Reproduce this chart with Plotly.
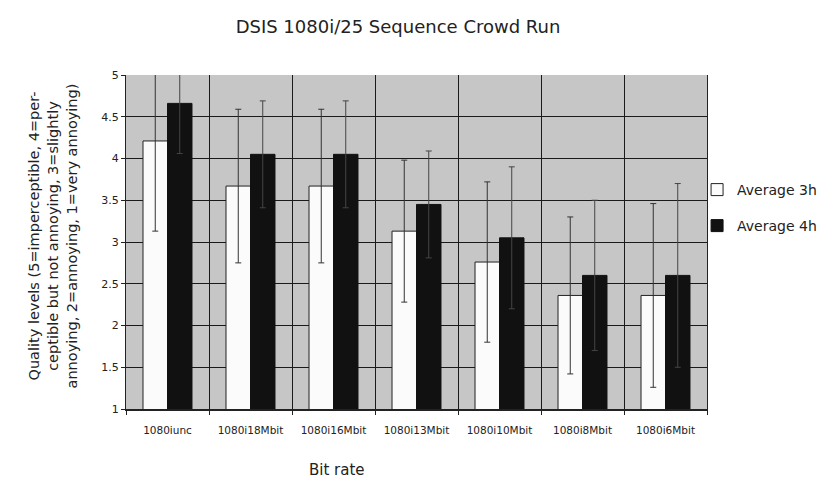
import plotly.graph_objects as go

categories = ["1080iunc", "1080i18Mbit", "1080i16Mbit", "1080i13Mbit", "1080i10Mbit", "1080i8Mbit", "1080i6Mbit"]
avg_3h = [4.21, 3.67, 3.67, 3.13, 2.76, 2.36, 2.36]
err_3h = [1.08, 0.92, 0.92, 0.85, 0.96, 0.94, 1.10]
avg_4h = [4.66, 4.05, 4.05, 3.45, 3.05, 2.60, 2.60]
err_4h = [0.60, 0.64, 0.64, 0.64, 0.85, 0.90, 1.10]
y_ticks = [1, 1.5, 2, 2.5, 3, 3.5, 4, 4.5, 5]
y_tick_labels = ["1", "1.5", "2", "2.5", "3", "3.5", "4", "4.5", "5"]

FONT = "DejaVu Sans"
TXT = "#222222"

L, R, T, B = 118, 123, 67, 78
W, H = 826, 479
PW, PH = W - L - R, H - T - B


def px_x(x):
    return (x - L) / PW


def px_y(y):
    return (H - B - y) / PH


fig = go.Figure()
fig.add_trace(go.Bar(
    x=categories, y=avg_3h, name="Average 3h",
    marker=dict(color="#fbfbfb", line=dict(color="#222222", width=1)),
    error_y=dict(type="data", array=err_3h, color="#333333", thickness=1, width=3),
    legend="legend", showlegend=True,
))
fig.add_trace(go.Bar(
    x=categories, y=avg_4h, name="Average 4h",
    marker=dict(color="#111111", line=dict(color="#111111", width=1)),
    error_y=dict(type="data", array=err_4h, color="#444444", thickness=1, width=3),
    legend="legend2", showlegend=True,
))

fig.update_layout(
    width=W, height=H,
    margin=dict(l=L, r=R, t=T, b=B),
    paper_bgcolor="white",
    plot_bgcolor="#c6c6c6",
    barmode="group",
    bargap=0.41,
    bargroupgap=0,
    showlegend=True,
    font=dict(family=FONT, color=TXT),
    title=dict(text="DSIS 1080i/25 Sequence Crowd Run", x=390 / W, xanchor="center",
               y=1 - 19 / H, yanchor="middle", font=dict(size=18, family=FONT, color=TXT)),
    legend=dict(visible=True, x=px_x(693), y=px_y(182), xref="paper", yref="paper",
                xanchor="left", yanchor="middle",
                font=dict(size=14, family=FONT, color=TXT), bgcolor="rgba(0,0,0,0)",
                itemwidth=30),
    legend2=dict(visible=True, x=px_x(693), y=px_y(218), xref="paper", yref="paper",
                 xanchor="left", yanchor="middle",
                 font=dict(size=14, family=FONT, color=TXT), bgcolor="rgba(0,0,0,0)",
                 itemwidth=30),
    xaxis=dict(
        tickson="boundaries", showgrid=True, gridcolor="#1a1a1a", gridwidth=1,
        ticks="outside", ticklen=4, tickcolor="#222222",
        showline=True, linecolor="#222222", linewidth=2,
        tickangle=0, ticklabelstandoff=10,
        tickfont=dict(size=10.5, family=FONT, color=TXT),
    ),
    yaxis=dict(
        range=[1, 5], tickvals=y_ticks, ticktext=y_tick_labels,
        showgrid=True, gridcolor="#1a1a1a", gridwidth=1,
        ticks="outside", ticklen=4, tickcolor="#222222",
        showline=True, linecolor="#222222", linewidth=1, mirror=True,
        tickfont=dict(size=11, family=FONT, color=TXT),
        zeroline=False,
    ),
    annotations=[
        dict(text="Quality levels (5=imperceptible, 4=per-<br>ceptible but not annoying, 3=slightly<br>annoying, 2=annoying, 1=very annoying)",
             x=px_x(45), y=px_y(228), xref="paper", yref="paper", xanchor="center", yanchor="middle",
             textangle=-90, showarrow=False, align="center",
             font=dict(size=14.5, family=FONT, color=TXT)),
        dict(text="Bit rate", x=px_x(330), y=px_y(462), xref="paper", yref="paper",
             xanchor="center", yanchor="middle", showarrow=False,
             font=dict(size=15, family=FONT, color=TXT)),
    ],
)

fig.write_html("out.html")
